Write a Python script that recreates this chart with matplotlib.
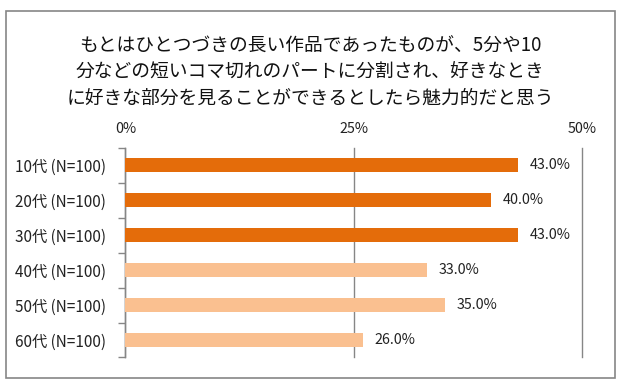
import matplotlib
matplotlib.use("Agg")
import matplotlib.pyplot as plt
from matplotlib.patches import Rectangle
from matplotlib.ticker import FixedLocator

plt.rcParams['font.family'] = ['Noto Sans CJK JP', 'DejaVu Sans']

title = ("もとはひとつづきの長い作品であったものが、5分や10\n"
         "分などの短いコマ切れのパートに分割され、好きなとき\n"
         "に好きな部分を見ることができるとしたら魅力的だと思う")
categories = ["10代 (N=100)", "20代 (N=100)", "30代 (N=100)",
              "40代 (N=100)", "50代 (N=100)", "60代 (N=100)"]
values = [43.0, 40.0, 43.0, 33.0, 35.0, 26.0]
bar_colors = ["#E46C0A", "#E46C0A", "#E46C0A", "#FAC090", "#FAC090", "#FAC090"]
x_ticks = [0, 25, 50]
x_tick_labels = ["0%", "25%", "50%"]

fig = plt.figure(figsize=(6.18, 3.81), dpi=100)
ax = fig.add_axes([0.203, 0.0617, 0.739, 0.551])

y = list(range(len(categories)))
ax.barh(y, values, height=0.41, color=bar_colors, zorder=3)
for yi, v in zip(y, values):
    ax.text(v + 1.3, yi, f"{v:.1f}%", va="center", ha="left", fontsize=10.3, color="#222222")

ax.set_xlim(0, 50)
ax.set_ylim(len(categories) - 0.5, -0.5)
ax.xaxis.tick_top()
ax.set_xticks(x_ticks)
ax.set_xticklabels(x_tick_labels, fontsize=10.3, color="#222222")
ax.tick_params(axis="x", length=0, pad=8)
ax.grid(axis="x", color="#868686", linewidth=1, zorder=0)
for gl in ax.get_xgridlines():
    gl.set_clip_on(False)

ax.set_yticks(y)
ax.set_yticklabels(categories, fontsize=11, color="#222222")
ax.yaxis.set_minor_locator(FixedLocator([i - 0.5 for i in range(len(categories) + 1)]))
ax.tick_params(axis="y", which="major", length=0, pad=14)
ax.tick_params(axis="y", which="minor", length=5, color="#868686", width=1)

for side in ["top", "right", "bottom"]:
    ax.spines[side].set_visible(False)
ax.spines["left"].set_color("#868686")
ax.spines["left"].set_linewidth(1)

fig.text(0.502, 0.81, title, ha="center", va="center", fontsize=13.5, linespacing=1.3, color="#111111")

fig.patches.append(Rectangle((0.0097, 0.008), 0.985, 0.963, transform=fig.transFigure,
                             fill=False, edgecolor="#868686", linewidth=1.2))

fig.savefig("out.png", dpi=100)
